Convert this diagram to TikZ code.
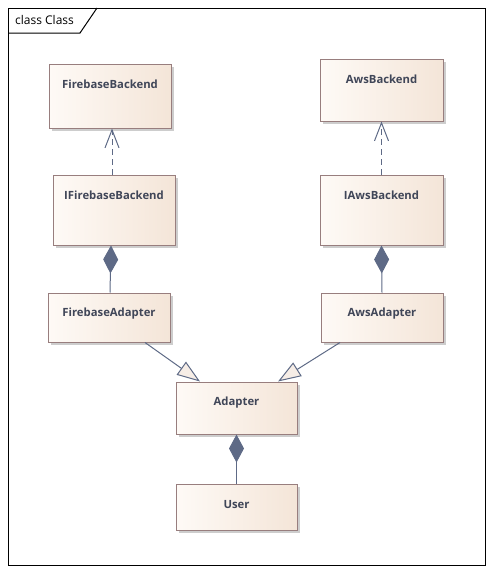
\documentclass[tikz,border=0pt]{standalone}
\usepackage{fontspec}
\setmainfont{Open Sans}
\usetikzlibrary{arrows.meta,shadows}
\definecolor{boxborder}{RGB}{152,126,126}
\definecolor{boxleft}{RGB}{254,250,246}
\definecolor{boxright}{RGB}{244,229,216}
\definecolor{shadowgray}{RGB}{205,205,205}
\definecolor{linecol}{RGB}{94,106,134}
\definecolor{textcol}{RGB}{64,70,88}
\definecolor{trifill}{RGB}{246,237,230}
\tikzset{
  classbox/.style={draw=boxborder, line width=1pt, left color=boxleft, right color=boxright,
    minimum width=#1, inner sep=0pt,
    drop shadow={shadow xshift=3pt, shadow yshift=-3pt, fill=shadowgray, opacity=1}},
  classname/.style={font=\bfseries\fontsize{11.3}{13}\selectfont, text=textcol, anchor=center, yshift=-21pt},
  dep/.style={draw=linecol, line width=1pt, dash pattern=on 6pt off 4pt,
    -{Straight Barb[length=18pt,width=14pt,line width=1pt,sep=0pt]}},
  comp/.style={draw=linecol, line width=1pt,
    -{Diamond[length=28pt,width=15pt,fill=linecol,color=linecol]}},
  gen/.style={draw=linecol, line width=1pt,
    -{Triangle[length=23pt,width=16pt,open,fill=trifill,color=linecol]}},
}
\begin{document}
\begin{tikzpicture}[x=1pt,y=-1pt]
\useasboundingbox (0,0) rectangle (493,573);
% frame
\draw[line width=1pt] (8,8) rectangle (485,565);
\draw[line width=1pt] (8,33) -- (80,33) -- (97,8);
\node[anchor=west, font=\fontsize{12}{14}\selectfont, inner sep=0pt] (title) at (15,20) {class Class};
% classes
\node[classbox=122pt, minimum height=64pt, label={[classname, name=fbt]north:FirebaseBackend}] (FB) at (110,96) {};
\node[classbox=123pt, minimum height=62pt, label={[classname, name=awst]north:AwsBackend}] (AWS) at (381.5,90) {};
\node[classbox=122pt, minimum height=70pt, label={[classname, name=ifbt]north:IFirebaseBackend}] (IFB) at (114,210) {};
\node[classbox=123pt, minimum height=70pt, label={[classname, name=iawst]north:IAwsBackend}] (IAWS) at (381.5,210) {};
\node[classbox=122pt, minimum height=49pt, label={[classname, name=fbat]north:FirebaseAdapter}] (FBA) at (109,317.5) {};
\node[classbox=122pt, minimum height=49pt, label={[classname, name=awsat]north:AwsAdapter}] (AWSA) at (382,317.5) {};
\node[classbox=121pt, minimum height=52pt, label={[classname, name=adt]north:Adapter}] (AD) at (236.5,408) {};
\node[classbox=121pt, minimum height=46pt, label={[classname, name=ust]north:User}] (US) at (236.5,507) {};
% connectors
\draw[dep] ([xshift=-2pt]IFB.north) -- ([xshift=2pt]FB.south);
\draw[dep] (IAWS.north) -- (AWS.south);
\draw[comp] ([xshift=1pt]FBA.north) -- ([xshift=-3pt]IFB.south);
\draw[comp] (AWSA.north) -- (IAWS.south);
\draw[comp] (US.north) -- (AD.south);
\draw[gen] ([xshift=36pt]FBA.south) -- ([xshift=-36.5pt]AD.north);
\draw[gen] ([xshift=-42pt]AWSA.south) -- ([xshift=41.5pt]AD.north);
\end{tikzpicture}
\end{document}
